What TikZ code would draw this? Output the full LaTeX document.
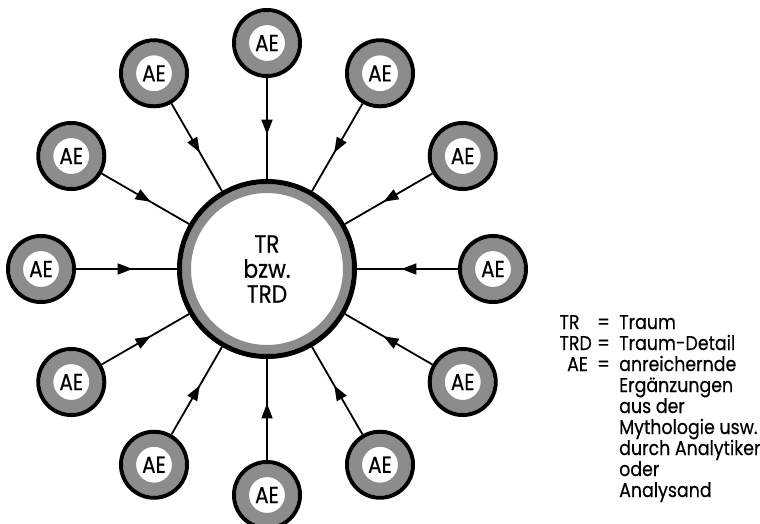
\documentclass[tikz,border=0pt]{standalone}
\usepackage{fontspec}
\setmainfont{Poppins}[FakeStretch=0.87,FakeBold=0.4]
\usetikzlibrary{arrows.meta,decorations.markings}

\tikzset{
  aering/.style={circle, draw=black, line width=4pt, fill=white,
    minimum size=66pt, inner sep=0pt, font=\fontsize{23}{25}\selectfont,
    path picture={\draw[black!45, line width=13pt]
      (path picture bounding box.center) circle (24.5pt);}},
  trring/.style={circle, draw=black, line width=5pt, fill=white,
    minimum size=175pt, inner sep=0pt, align=center,
    font=\fontsize{25}{25}\selectfont,
    path picture={\draw[black!45, line width=9pt]
      (path picture bounding box.center) circle (80.5pt);}},
  feed/.style={line width=1.8pt,
    decoration={markings,
      mark=at position 0.56 with {\arrow{Triangle[length=15pt,width=11pt]}}},
    postaction={decorate}},
  legend/.style={anchor=base west, inner sep=0pt,
    font=\fontsize{20}{21}\selectfont}
}

\begin{document}
\begin{tikzpicture}[x=1pt,y=-1pt]
\useasboundingbox (0,0) rectangle (760,523);

\node[trring] (tr) at (267,269) {TR\\bzw.\\TRD};

% die zwoelf AE rundherum
\foreach \a [count=\i] in {0,30,...,330}{
\node[aering] (ae\i) at ({267+226*sin(\a)},{269-226*cos(\a)}) {AE};
\draw[feed] (ae\i) -- (tr);
}

% Legende
\node[legend, anchor=base east] (ktrd) at (592,350) {TRD};
\node[legend] (ktr) at ([yshift=21pt]ktrd.base west) {TR};
\node[legend, anchor=base east] (kae) at (588,371) {AE};
\foreach \y in {329,350,371}{
\node[legend] (eq\y) at (597,\y) {=};
}
\node[legend] (ltr) at (619,329) {Traum};
\node[legend] (ltrd) at (619,350) {Traum-Detail};
\foreach \t [count=\k] in {anreichernde,Ergänzungen,aus der,Mythologie usw.,durch Analytiker,oder,Analysand}{
\node[legend] (lae\k) at (619,{371+21*(\k-1)}) {\t};
}
\end{tikzpicture}
\end{document}
